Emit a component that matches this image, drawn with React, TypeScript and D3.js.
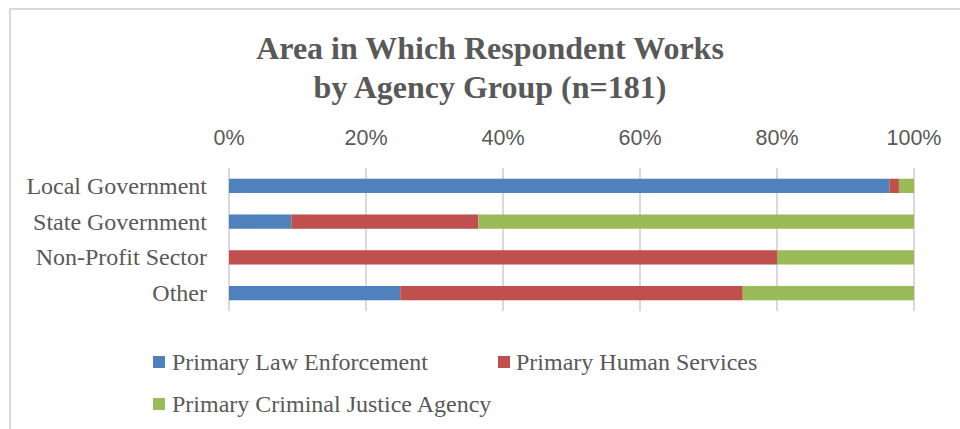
import React from 'react'
import * as d3 from 'd3'

const categories = ['Local Government', 'State Government', 'Non-Profit Sector', 'Other']
const seriesNames = ['Primary Law Enforcement', 'Primary Human Services', 'Primary Criminal Justice Agency']
const lawEnforcement = [96.4, 9.1, 0, 25]
const humanServices = [1.4, 27.3, 80, 50]
const criminalJustice = [2.2, 63.6, 20, 25]
const colors = ['#4f81bd', '#c0504d', '#9bbb59']
const ticks = [0, 20, 40, 60, 80, 100]

const W = 960
const H = 429
const textColor = '#595959'
const serif = '"Liberation Serif", "Times New Roman", serif'
const sans = '"Liberation Sans", Arial, sans-serif'

export default function App() {
  const rows = categories.map((c, i) => ({
    cat: c,
    law: lawEnforcement[i],
    human: humanServices[i],
    cj: criminalJustice[i],
  }))
  const keys = ['law', 'human', 'cj']
  const stacked = d3.stack<any>().keys(keys)(rows)

  const x = d3.scaleLinear().domain([0, 100]).range([229, 914])
  const y = d3.scaleBand().domain(categories).range([168, 311]).paddingInner(0.6).paddingOuter(0.3)

  const legendItems = [
    { name: seriesNames[0], color: colors[0], mx: 153, tx: 172, cy: 362 },
    { name: seriesNames[1], color: colors[1], mx: 498, tx: 516, cy: 362 },
    { name: seriesNames[2], color: colors[2], mx: 153, tx: 172, cy: 404 },
  ]

  return (
    <svg width={W} height={H} style={{ position: 'absolute', left: 0, top: 0, background: '#fff' }}>
      <rect x={10} y={9} width={W} height={H} fill="#fff" stroke="#d9d9d9" strokeWidth={2} />
      <text x={490} y={59} textAnchor="middle" fontFamily={serif} fontWeight="bold" fontSize={32} fill={textColor}>
        Area in Which Respondent Works
      </text>
      <text x={490} y={98} textAnchor="middle" fontFamily={serif} fontWeight="bold" fontSize={32} fill={textColor}>
        by Agency Group (n=181)
      </text>

      {ticks.map(t => (
        <g key={t}>
          <line x1={x(t)} x2={x(t)} y1={168} y2={311} stroke="#d9d9d9" strokeWidth={2} />
          <text x={x(t)} y={145} textAnchor="middle" fontFamily={sans} fontSize={21.5} fill={textColor}>
            {t + '%'}
          </text>
        </g>
      ))}

      {stacked.map((s, si) => (
        <g key={si} fill={colors[si]}>
          {s.map((d, i) => (
            <rect
              key={i}
              x={x(d[0])}
              y={y(categories[i])!}
              width={Math.max(0, x(d[1]) - x(d[0]))}
              height={y.bandwidth()}
            />
          ))}
        </g>
      ))}

      {categories.map(c => (
        <text
          key={c}
          x={207}
          y={y(c)! + y.bandwidth() / 2 + 8}
          textAnchor="end"
          fontFamily={serif}
          fontSize={24}
          fill={textColor}
        >
          {c}
        </text>
      ))}

      {legendItems.map(l => (
        <g key={l.name}>
          <rect x={l.mx} y={l.cy - 6} width={12} height={12} fill={l.color} />
          <text x={l.tx} y={l.cy + 8} fontFamily={serif} fontSize={24} fill={textColor}>
            {l.name}
          </text>
        </g>
      ))}
    </svg>
  )
}
